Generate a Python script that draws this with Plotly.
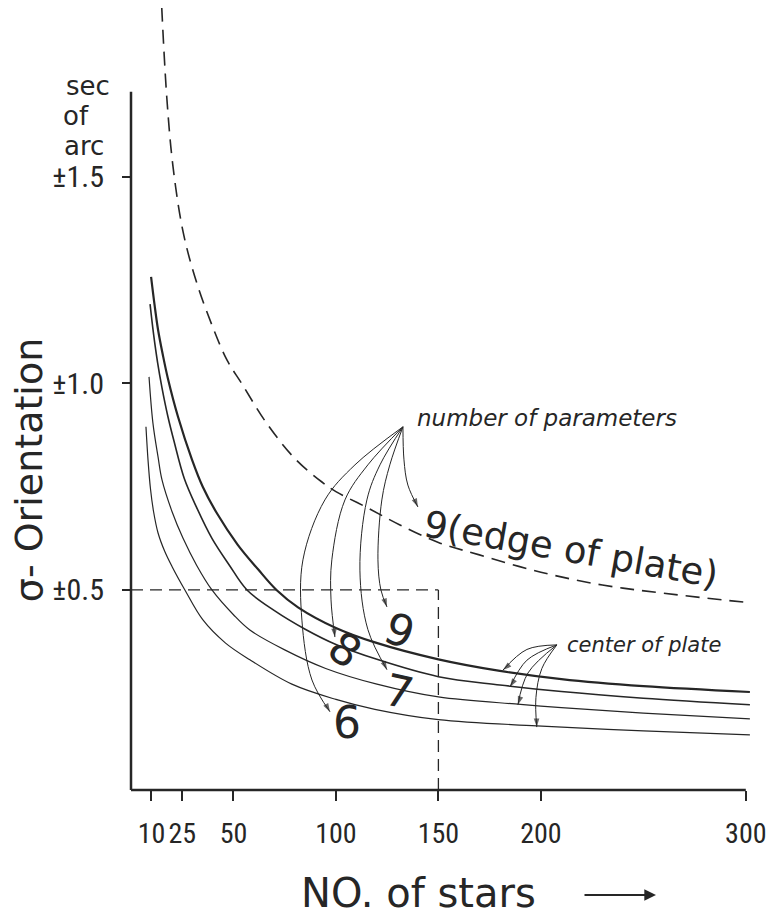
import plotly.graph_objects as go

# ---------------- data ----------------
x_tick_vals = [10, 25, 50, 100, 150, 200, 300]
x_tick_text = ["10", "25", "50", "100", "150", "200", "300"]
y_tick_vals = [0.5, 1.0, 1.5]
y_tick_text = ["±0.5", "±1.0", "±1.5"]

# 9 parameters, edge of plate (dashed)
edge9_n = [15, 17.5, 20.5, 25.5, 32, 40, 47, 54, 66, 80, 93, 100, 115, 131, 150, 170, 200, 230, 260, 302]
edge9_sigma = [1.91, 1.69, 1.525, 1.365, 1.245, 1.135, 1.055, 1.0, 0.905, 0.818, 0.762, 0.738,
               0.700, 0.658, 0.615, 0.585, 0.543, 0.512, 0.492, 0.469]

# centre of plate curves (9, 8, 7, 6 parameters)
c9_n = [9.8, 11.5, 13.2, 15.5, 18, 22.9, 29.8, 35, 42, 52, 62, 71, 81.5, 100, 119, 150, 180, 210, 250, 302]
c9_sigma = [1.258, 1.19, 1.13, 1.07, 1.012, 0.92, 0.815, 0.75, 0.685, 0.61, 0.55, 0.5, 0.458, 0.408,
            0.373, 0.332, 0.304, 0.284, 0.267, 0.253]

c8_n = [9.3, 11, 13, 15.1, 18, 21, 26, 32, 39.5, 48, 56.6, 70, 85, 100, 120, 150, 180, 210, 250, 302]
c8_sigma = [1.192, 1.12, 1.05, 0.99, 0.92, 0.86, 0.77, 0.70, 0.625, 0.56, 0.5, 0.45, 0.405, 0.368,
            0.332, 0.29, 0.27, 0.254, 0.238, 0.222]

c7_n = [8.8, 10.7, 13.2, 15.1, 20, 25.4, 32, 39.5, 50, 58, 75, 95, 120, 150, 190, 210, 250, 302]
c7_sigma = [1.016, 0.904, 0.822, 0.767, 0.69, 0.625, 0.56, 0.5, 0.44, 0.403, 0.355, 0.31, 0.272,
            0.241, 0.223, 0.215, 0.202, 0.188]

c6_n = [7.3, 8.3, 9.5, 11, 13.2, 16.5, 20, 26.3, 35, 46, 58, 78.5, 100, 119, 150, 198, 250, 302]
c6_sigma = [0.895, 0.815, 0.745, 0.69, 0.638, 0.593, 0.557, 0.5, 0.428, 0.372, 0.331, 0.272, 0.235,
            0.211, 0.186, 0.171, 0.159, 0.149]

ref_n = 150
ref_sigma = 0.5

INK = "#262626"
Y_MIN, Y_MAX = 0.0157, 1.909
X_MIN, X_MAX = 0, 304
Y_AXIS_TOP = 1.706

fig = go.Figure()

fig.add_trace(go.Scatter(x=edge9_n, y=edge9_sigma, mode="lines", line_shape="spline",
                         line=dict(color=INK, width=1.6, dash="14px,8px"), hoverinfo="skip"))
for n, s, w in [(c9_n, c9_sigma, 2.2), (c8_n, c8_sigma, 1.6), (c7_n, c7_sigma, 1.2), (c6_n, c6_sigma, 1.2)]:
    fig.add_trace(go.Scatter(x=n, y=s, mode="lines", line_shape="spline",
                             line=dict(color=INK, width=w), hoverinfo="skip"))


def leader(pts, width=1.0):
    xs = [p[0] for p in pts]
    ys = [p[1] for p in pts]
    k = len(pts)
    fig.add_trace(go.Scatter(
        x=xs, y=ys, mode="lines+markers", line_shape="spline",
        line=dict(color=INK, width=width),
        marker=dict(symbol=["circle"] * (k - 1) + ["arrow"], size=[0] * (k - 1) + [9],
                    angleref="previous", color=INK, line=dict(width=0)),
        hoverinfo="skip"))


# leaders from "number of parameters"
leader([(132.7, 0.895), (133.2, 0.815), (135.1, 0.754), (140, 0.701)])
leader([(132.7, 0.895), (126.3, 0.803), (122.4, 0.718), (120.5, 0.573), (121.95, 0.5), (124.9, 0.459)])
leader([(132.7, 0.895), (121.5, 0.803), (115.1, 0.718), (111.7, 0.548), (115.6, 0.404), (124.9, 0.307)])
leader([(132.7, 0.895), (115.6, 0.803), (104.4, 0.718), (98.0, 0.573), (97.6, 0.476), (99.5, 0.386)])
leader([(132.7, 0.895), (109.3, 0.803), (94.6, 0.718), (83.9, 0.573), (83.4, 0.427), (88.3, 0.282), (97.1, 0.205)])
# leaders from "center of plate"
leader([(207.8, 0.367), (193.2, 0.356), (181.5, 0.306)])
leader([(207.8, 0.367), (193.2, 0.33), (184.9, 0.265)])
leader([(207.8, 0.367), (193.7, 0.299), (188.8, 0.222)])
leader([(207.8, 0.367), (200.5, 0.31), (197.6, 0.24), (198, 0.168)])

shapes = [
    dict(type="line", xref="x", yref="paper", x0=0, x1=300, y0=0, y1=0, line=dict(color=INK, width=2.5)),
    dict(type="line", xref="paper", yref="y", x0=0, x1=0, y0=Y_MIN, y1=Y_AXIS_TOP, line=dict(color=INK, width=2.5)),
    dict(type="line", xref="x", yref="y", x0=0, x1=ref_n, y0=ref_sigma, y1=ref_sigma,
         line=dict(color=INK, width=1.3, dash="12px,7px")),
    dict(type="line", xref="x", yref="y", x0=ref_n, x1=ref_n, y0=Y_MIN, y1=ref_sigma,
         line=dict(color=INK, width=1.3, dash="12px,7px")),
]

SANS = "DejaVu Sans, Liberation Sans, sans-serif"
NARROW = "Liberation Sans Narrow, Roboto Condensed, Roboto, sans-serif"


def txt(x, y, text, size, angle=0, xanchor="center", ref="data", family=SANS):
    r = ("x", "y") if ref == "data" else ("paper", "paper")
    return dict(x=x, y=y, xref=r[0], yref=r[1], text=text, showarrow=False, textangle=angle,
                xanchor=xanchor, yanchor="middle", font=dict(family=family, size=size, color=INK))


annotations = [
    txt(-0.069, 0.900, "sec", 26, ref="paper"),
    txt(-0.088, 0.862, "of", 26, ref="paper"),
    txt(-0.075, 0.823, "arc", 26, ref="paper"),
    txt(-0.1637, 0.409, "σ- Orientation", 38, angle=-90, ref="paper"),
    txt(0.4607, -0.1317, "NO. of stars", 40, ref="paper"),
    dict(x=0.8427, y=-0.1343, xref="paper", yref="paper", text="", showarrow=True, ax=-73, ay=0,
         axref="pixel", ayref="pixel", arrowhead=2, arrowsize=1.3, arrowwidth=1.8, arrowcolor=INK),
    txt(138.5, 0.917, "<i>number of parameters</i>", 23, xanchor="left"),
    txt(211.7, 0.367, "<i>center of plate</i>", 21, xanchor="left"),
    txt(214.6, 0.597, "9(edge of plate)", 37, angle=10),
    txt(131.2, 0.403, "9", 44, angle=20),
    txt(104.4, 0.355, "8", 44, angle=35),
    txt(130.7, 0.253, "7", 44, angle=12),
    txt(105.4, 0.178, "6", 44),
]

fig.update_layout(
    width=767, height=907,
    margin=dict(l=123, r=21, t=0, b=125),
    plot_bgcolor="white", paper_bgcolor="white",
    showlegend=False,
    shapes=shapes,
    annotations=annotations,
    xaxis=dict(range=[X_MIN, X_MAX], showgrid=False, zeroline=False, showline=False,
               ticks="outside", ticklen=10, tickwidth=1.5, tickcolor=INK, tickangle=0,
               tickvals=x_tick_vals, ticktext=x_tick_text, ticklabelstandoff=8,
               tickfont=dict(family=NARROW, size=28, color=INK)),
    yaxis=dict(range=[Y_MIN, Y_MAX], showgrid=False, zeroline=False, showline=False,
               ticks="outside", ticklen=8, tickwidth=1.5, tickcolor=INK,
               tickvals=y_tick_vals, ticktext=y_tick_text, ticklabelstandoff=12,
               tickfont=dict(family=NARROW, size=30, color=INK)),
)

fig.write_html("out.html")
